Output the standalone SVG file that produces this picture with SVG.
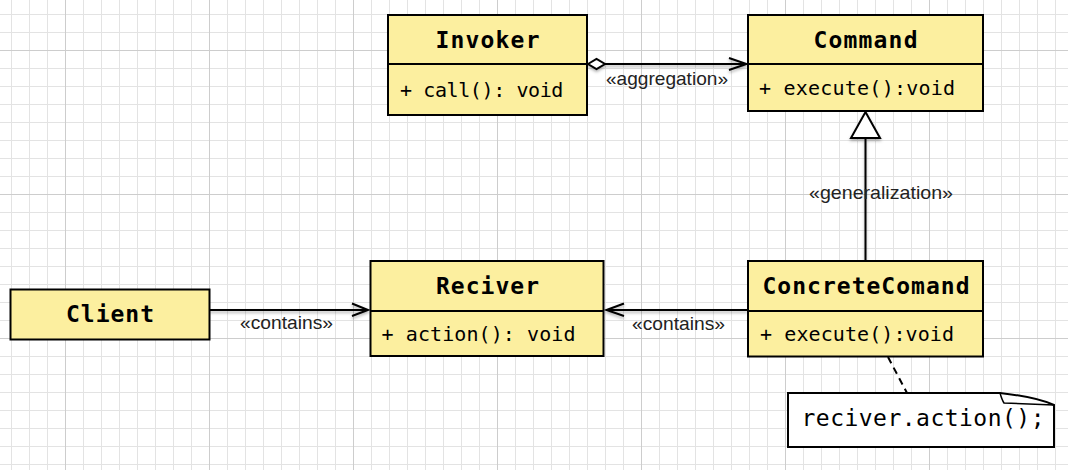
<svg xmlns="http://www.w3.org/2000/svg" width="1068" height="470" viewBox="0 0 1068 470">
  <defs>
    <pattern id="minor" x="11" y="14" width="18" height="18" patternUnits="userSpaceOnUse">
      <path d="M0.5 0 V18 M0 0.5 H18" stroke="#e3e3e3" stroke-width="1" fill="none"/>
    </pattern>
    <pattern id="major" x="65" y="50" width="144" height="144" patternUnits="userSpaceOnUse">
      <path d="M0.5 0 V144 M0 0.5 H144" stroke="#cdcdcd" stroke-width="1" fill="none"/>
    </pattern>
    <filter id="shadow" x="-10%" y="-50%" width="120%" height="200%">
      <feDropShadow dx="0" dy="2" stdDeviation="1.5" flood-color="#000" flood-opacity="0.3"/>
    </filter>
  </defs>
  <style>
    .box { fill: #fcef9f; stroke: #000; stroke-width: 2; }
    .div { stroke: #000; stroke-width: 2; }
    .title { font-family: "DejaVu Sans Mono", monospace; font-weight: bold; font-size: 23px; fill: #000; text-anchor: middle; }
    .meth { font-family: "DejaVu Sans Mono", monospace; font-size: 20px; fill: #000; }
    .lbl { font-family: "Liberation Sans", Arial, sans-serif; font-size: 18.5px; fill: #222; }
    .line { stroke: #000; stroke-width: 2; fill: none; }
    .note { font-family: "DejaVu Sans Mono", monospace; font-size: 23px; fill: #000; }
  </style>

  <rect width="1068" height="470" fill="#ffffff"/>
  <rect width="1068" height="470" fill="url(#minor)"/>
  <rect width="1068" height="470" fill="url(#major)"/>

  <g id="connectors">
    <g filter="url(#shadow)">
      <path class="line" d="M605 64 H746"/>
      <path class="line" d="M729 58 L746.5 64 L729 70"/>
      <path d="M588 64 L596.5 59 L605 64 L596.5 69 Z" fill="#fff" stroke="#000" stroke-width="2"/>
      <path class="line" d="M865.5 261 V138"/>
      <path d="M865.5 112 L880 138 L851 138 Z" fill="#fff" stroke="#000" stroke-width="2"/>
      <path class="line" d="M209 310 H367"/>
      <path class="line" d="M352 303.5 L368 310 L352 316"/>
      <path class="line" d="M748 310 H606"/>
      <path class="line" d="M624 303.5 L606.5 310 L624 316"/>
    </g>
    <path d="M888 357 L907 393" stroke="#000" stroke-width="2" stroke-dasharray="7 5" fill="none"/>
    <text class="lbl" x="667" y="84.5" text-anchor="middle" textLength="122" lengthAdjust="spacingAndGlyphs">«aggregation»</text>
    <text class="lbl" x="881" y="199" text-anchor="middle" textLength="144" lengthAdjust="spacingAndGlyphs">«generalization»</text>
    <text class="lbl" x="286.5" y="328.5" text-anchor="middle" textLength="93" lengthAdjust="spacingAndGlyphs">«contains»</text>
    <text class="lbl" x="678.5" y="329.5" text-anchor="middle" textLength="93" lengthAdjust="spacingAndGlyphs">«contains»</text>
  </g>

  <g id="invoker">
    <rect class="box" x="388" y="15" width="199" height="100"/>
    <line class="div" x1="388" y1="64" x2="587" y2="64"/>
    <text class="title" x="487.5" y="47.5" textLength="104" lengthAdjust="spacing">Invoker</text>
    <text class="meth" x="400" y="97" font-size="19" letter-spacing="-0.4">+ call(): void</text>
  </g>

  <g id="command">
    <rect class="box" x="748" y="15" width="235" height="96"/>
    <line class="div" x1="748" y1="64" x2="983" y2="64"/>
    <text class="title" x="865.5" y="47.5" textLength="104" lengthAdjust="spacing">Command</text>
    <text class="meth" x="759" y="95" textLength="196" lengthAdjust="spacing">+ execute():void</text>
  </g>

  <g id="client">
    <rect class="box" x="10.5" y="289.5" width="199" height="50"/>
    <text class="title" x="110" y="321.5" textLength="88" lengthAdjust="spacing">Client</text>
  </g>

  <g id="reciver">
    <rect class="box" x="370.5" y="261" width="233" height="95"/>
    <line class="div" x1="370.5" y1="311" x2="603.5" y2="311"/>
    <text class="title" x="487.5" y="294" textLength="103" lengthAdjust="spacing">Reciver</text>
    <text class="meth" x="381.5" y="340.5" textLength="194" lengthAdjust="spacing">+ action(): void</text>
  </g>

  <g id="concretecomand">
    <rect class="box" x="748" y="261" width="235" height="95.5"/>
    <line class="div" x1="748" y1="311" x2="983" y2="311"/>
    <text class="title" x="866" y="294" textLength="207" lengthAdjust="spacing">ConcreteComand</text>
    <text class="meth" x="760" y="340.5" textLength="194" lengthAdjust="spacing">+ execute():void</text>
  </g>

  <g id="note">
    <path d="M788 393 H1000 Q1036 397 1054 405 V447 H788 Z" fill="#fff" stroke="#000" stroke-width="2"/>
    <path d="M1000 393 Q1002 400 1004 403 L1054 405" fill="none" stroke="#000" stroke-width="1.5"/>
    <text class="note" x="801.5" y="425.5" textLength="243" lengthAdjust="spacing">reciver.action();</text>
  </g>
</svg>
